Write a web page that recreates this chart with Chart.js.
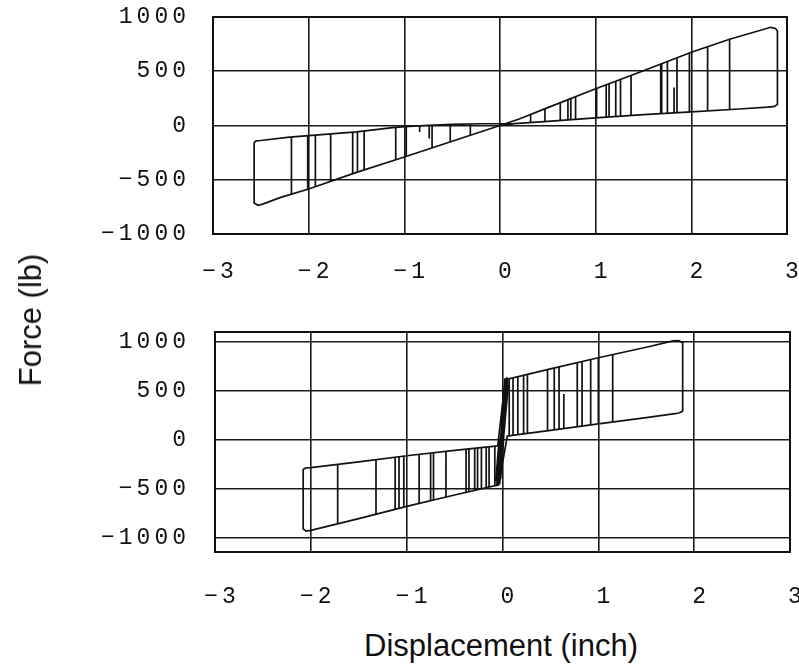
<!DOCTYPE html>
<html>
<head>
<meta charset="utf-8">
<script src="https://cdn.jsdelivr.net/npm/chart.js@4"></script>
<style>
  body { margin: 0; background: #fff; }
  #wrap { position: relative; width: 799px; height: 664px; overflow: hidden; }
  canvas { position: absolute; left: 0; }
  .axis-title { position: absolute; font-family: 'Liberation Sans', Arial, sans-serif; font-size: 31px; color: #111; white-space: nowrap; }
</style>
</head>
<body>
<div id="wrap">
  <canvas id="topChart" width="799" height="290" style="top:0"></canvas>
  <canvas id="bottomChart" width="799" height="330" style="top:290px"></canvas>
  <div class="axis-title" id="yTitle" style="left:31px; top:320px; transform: translate(-50%, -50%) rotate(-90deg);">Force (lb)</div>
  <div class="axis-title" id="xTitle" style="left:501px; top:646px; transform: translate(-50%, -50%);">Displacement (inch)</div>
</div>
<script>
const xTicks = [-3, -2, -1, 0, 1, 2, 3];
const yTicks = [-1000, -500, 0, 500, 1000];

// top panel: outline of both loops, one closed path starting at the origin
const topOutlineX = [0, 0.15, 0.5, 1.0, 1.5, 2.0, 2.5, 2.8, 2.87, 2.9, 2.9, 2.88, 2.83, 2.4, 2.0, 1.5, 1.0, 0.5, 0.2, 0,
  -0.5, -1.0, -1.5, -2.0, -2.3, -2.48, -2.53, -2.57, -2.57, -2.55, -2.5, -2.2, -1.8, -1.5, -1.1, -0.8, -0.5, -0.2, 0.15];
const topOutlineY = [0, 18, 38, 70, 100, 126, 152, 170, 176, 195, 870, 895, 905, 795, 675, 505, 338, 165, 60, 0,
  -145, -290, -432, -585, -665, -725, -735, -715, -160, -142, -138, -108, -80, -58, -18, 0, 10, 16, 18];

// top panel: unloading lines inside the loops
const topRightCycleX = [0.32, 0.47, 0.63, 0.71, 0.74, 0.79, 1.01, 1.11, 1.14, 1.21, 1.26, 1.37, 1.68, 1.69, 1.75, 1.82, 1.85, 1.98, 2.17, 2.40];
const topRightCycleHi = [100, 155, 210, 238, 248, 265, 341, 375, 385, 408, 425, 462, 566, 570, 590, 350, 624, 668, 726, 795];
const topRightCycleLo = [28, 36, 46, 51, 53, 56, 71, 77, 78, 83, 86, 92, 109, 110, 113, 117, 118, 125, 135, 147];
const topLeftCycleX = [-2.18, -2.01, -1.93, -1.77, -1.54, -1.49, -1.42, -1.09, -0.98, -0.84, -0.74, -0.71, -0.52, -0.31];
const topLeftCycleHi = [-106, -95, -89, -78, -61, -57, -50, -17, -11, -3, 2, 3, 9, 14];
const topLeftCycleLo = [-633, -588, -564, -515, -444, -429, -408, -316, -284, -60, -120, -206, -151, -90];

// bottom panel: outline of both loops joined by the steep pinch near zero
const bottomOutlineX = [-0.05, 0.03, 0.5, 1.0, 1.5, 1.78, 1.84, 1.88, 1.88, 1.85, 1.8, 1.5, 1.0, 0.5, 0.1, 0.05,
  -0.04, -0.5, -1.0, -1.5, -2.0, -2.05, -2.08, -2.08, -2.05, -2.0, -1.5, -1.0, -0.5, -0.05];
const bottomOutlineY = [-60, 615, 725, 838, 945, 1010, 1012, 990, 295, 278, 268, 229, 164, 99, 47, 40,
  -455, -560, -675, -800, -920, -928, -905, -300, -283, -280, -222, -160, -105, -60];

const bottomRightCycleX = [0.07, 0.11, 0.16, 0.22, 0.26, 0.47, 0.54, 0.59, 0.64, 0.78, 0.83, 0.92, 1.00, 1.15];
const bottomRightCycleHi = [624, 634, 645, 659, 669, 718, 734, 745, 470, 788, 800, 820, 838, 870];
const bottomRightCycleLo = [42, 48, 54, 62, 67, 95, 104, 111, 117, 135, 142, 154, 164, 184];
const bottomLeftCycleX = [-1.72, -1.32, -1.12, -1.08, -1.03, -0.87, -0.75, -0.72, -0.59, -0.38, -0.35, -0.29, -0.26, -0.22, -0.17, -0.14, -0.08];
const bottomLeftCycleHi = [-248, -200, -175, -170, -164, -145, -133, -129, -115, -94, -91, -86, -83, -79, -74, -71, -63];
const bottomLeftCycleLo = [-853, -755, -705, -695, -683, -645, -618, -611, -581, -533, -526, -512, -505, -496, -485, -478, -464];

// bottom panel: the dense, nearly vertical reloading lines around zero (null = pen up)
const bottomPinchX = [-0.06, -0.01, 0.03, null, -0.03, 0.01, 0.05, null, -0.05, 0.0, 0.04, null,
  -0.02, 0.02, 0.045, null, -0.07, -0.04, 0.0, null, -0.01, 0.06, null, -0.045, -0.015, 0.025, null,
  -0.035, 0.015, 0.035, null, -0.055, -0.025, 0.005, null, 0.0, 0.03, 0.055];
const bottomPinchY = [-470, 60, 630, null, -450, 80, 620, null, -300, 200, 600, null,
  -400, 300, 640, null, -420, -60, 120, null, -200, 560, null, -460, 0, 620, null,
  -350, 350, 610, null, -440, -100, 400, null, -150, 300, 600];

function pathPoints(xs, ys) {
  return xs.map((x, i) => ({ x: x === null ? 0 : x, y: ys[i] }));
}

function cyclePoints(xs, his, los) {
  const pts = [];
  xs.forEach((x, i) => {
    pts.push({ x, y: his[i] }, { x, y: los[i] }, { x, y: null });
  });
  return pts;
}

function buildDataset(data, width = 1.7) {
  return {
    data,
    showLine: true,
    borderColor: '#111',
    borderWidth: width,
    pointRadius: 0,
    fill: false,
    tension: 0,
    spanGaps: false
  };
}

const tickFont = { family: "'Liberation Mono', 'DejaVu Sans Mono', monospace", size: 23 };

function tickLabel(value) {
  return value < 0 ? '\u2212' + Math.abs(value) : String(value);
}

function noOverflow(scale) {
  scale.paddingTop = 0;
  scale.paddingBottom = 0;
  scale.paddingLeft = 0;
  scale.paddingRight = 0;
}

const frame = {
  id: 'frame',
  beforeDraw(chart) {
    chart.ctx.letterSpacing = '4px';
  },
  afterDatasetsDraw(chart) {
    const { ctx, chartArea } = chart;
    ctx.save();
    ctx.strokeStyle = '#111';
    ctx.lineWidth = 2;
    ctx.strokeRect(chartArea.left, chartArea.top, chartArea.right - chartArea.left, chartArea.bottom - chartArea.top);
    ctx.restore();
  }
};

function makeChart(canvasId, datasets, opts) {
  return new Chart(document.getElementById(canvasId), {
    type: 'scatter',
    data: { datasets },
    options: {
      responsive: false,
      animation: false,
      events: [],
      layout: { padding: { left: 0, right: opts.padRight, top: opts.padTop, bottom: 0 } },
      plugins: { legend: { display: false }, tooltip: { enabled: false } },
      scales: {
        x: {
          type: 'linear',
          min: -3,
          max: 3,
          afterBuildTicks: (scale) => { scale.ticks = xTicks.map((v) => ({ value: v })); },
          afterFit: (scale) => { scale.height = opts.xHeight; noOverflow(scale); },
          grid: { color: '#1a1a1a', lineWidth: 1.6, drawTicks: false },
          border: { display: false },
          ticks: { font: tickFont, color: '#111', padding: opts.xPad, labelOffset: 7, maxRotation: 0, callback: tickLabel }
        },
        y: {
          type: 'linear',
          min: opts.yMin,
          max: opts.yMax,
          afterBuildTicks: (scale) => { scale.ticks = yTicks.map((v) => ({ value: v })); },
          afterFit: (scale) => { scale.width = opts.yWidth; noOverflow(scale); },
          grid: { color: '#1a1a1a', lineWidth: 1.6, drawTicks: false },
          border: { display: false },
          ticks: { font: tickFont, color: '#111', padding: opts.yPad, callback: tickLabel }
        }
      }
    },
    plugins: [frame]
  });
}

makeChart('topChart', [
  buildDataset(pathPoints(topOutlineX, topOutlineY)),
  buildDataset(cyclePoints(topRightCycleX, topRightCycleHi, topRightCycleLo)),
  buildDataset(cyclePoints(topLeftCycleX, topLeftCycleHi, topLeftCycleLo))
], { yMin: -1000, yMax: 1000, yWidth: 213, padRight: 12, padTop: 17, xHeight: 56, xPad: 24, yPad: 23 });

makeChart('bottomChart', [
  buildDataset(pathPoints(bottomOutlineX, bottomOutlineY)),
  buildDataset(cyclePoints(bottomRightCycleX, bottomRightCycleHi, bottomRightCycleLo)),
  buildDataset(cyclePoints(bottomLeftCycleX, bottomLeftCycleHi, bottomLeftCycleLo)),
  buildDataset(pathPoints(bottomPinchX, bottomPinchY), 1.8)
], { yMin: -1140, yMax: 1100, yWidth: 215, padRight: 9, padTop: 42, xHeight: 68, xPad: 31, yPad: 25 });
</script>
</body>
</html>
